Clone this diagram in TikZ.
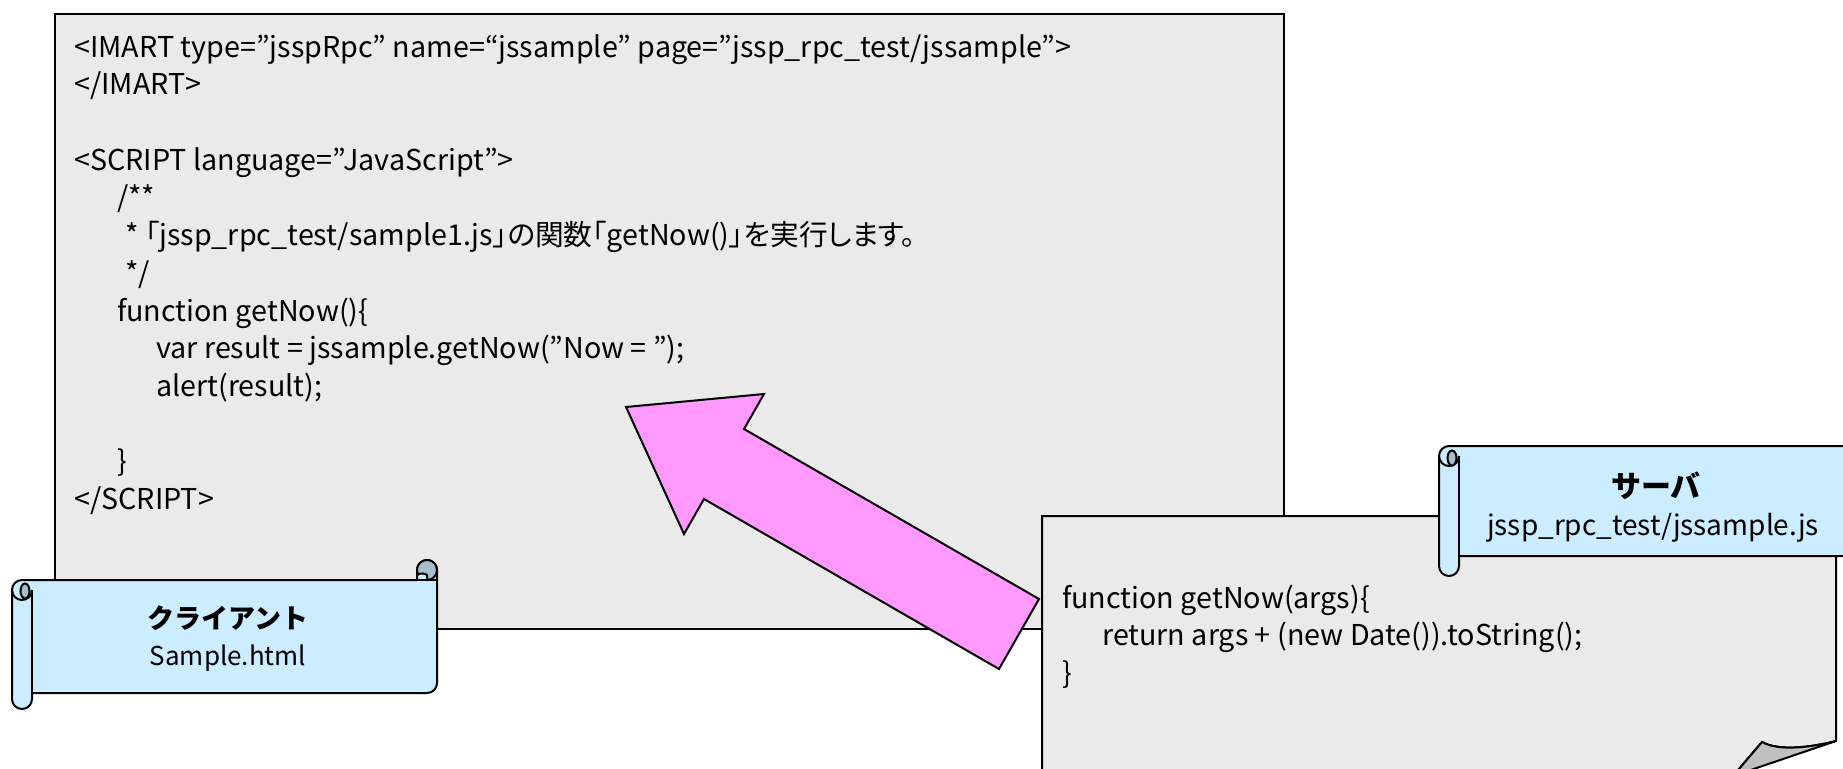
\documentclass[tikz,border=0pt]{standalone}
\usepackage{fontspec}
\setmainfont{Noto Sans CJK JP}
\definecolor{docgray}{RGB}{234,234,234}
\definecolor{bannerblue}{RGB}{204,236,255}
\definecolor{curldark}{RGB}{166,190,206}
\definecolor{arrowpink}{RGB}{255,153,255}
\definecolor{flapgray}{RGB}{192,192,192}
\begin{document}
\begin{tikzpicture}[x=1pt,y=-1pt,
  doc/.style={draw=black,line width=2pt,fill=docgray},
  banner/.style={draw=black,line width=2pt,fill=bannerblue,line join=round},
  curl/.style={draw=black,line width=2pt,fill=curldark},
  codeline/.style={anchor=base west,inner sep=0pt,font=\fontsize{28.7}{32}\selectfont},
  title/.style={anchor=center,inner sep=0pt,font=\fontsize{27}{30}\selectfont\bfseries},
  subtitle/.style={anchor=center,inner sep=0pt,font=\fontsize{26}{30}\selectfont},
  bigarrow/.style={draw=black,line width=2pt,fill=arrowpink,line join=miter}]
\useasboundingbox (0,0) rectangle (1843,768);
\clip (0,0) rectangle (1843,768);

% client document
\node[doc,anchor=north west,minimum width=1229pt,minimum height=615pt,inner sep=0pt] (client) at (54,13) {};
\node[codeline] (c1) at (74,57) {<IMART type=”jsspRpc” name=“jssample” page=”jssp\_rpc\_test/jssample”>};
\node[codeline] (c2) at (74,94.7) {</IMART>};
\node[codeline] (c3) at (74,170) {<SCRIPT language=”JavaScript”>};
\node[codeline] (c4) at (117,207.8) {/**};
\node[codeline] (c5) at (125,245.5) {\addfontfeature{RawFeature=+palt}* 「jssp\_rpc\_test/sample1.js」の関数「getNow()」を実行します。};
\node[codeline] (c6) at (125,283) {*/};
\node[codeline] (c7) at (117,321) {function getNow()\{};
\node[codeline] (c8) at (156,358.6) {var result = jssample.getNow(”Now = ”);};
\node[codeline] (c9) at (156,396.3) {alert(result);};
\node[codeline] (c10) at (117,471.7) {\}};
\node[codeline] (c11) at (74,509.4) {</SCRIPT>};

% arrow
\coordinate (tip) at (626,407);
\coordinate (barbT) at (764,394);
\coordinate (innT) at (744,429);
\coordinate (tailT) at (1039,599);
\coordinate (tailB) at (999,669);
\coordinate (innB) at (704,499);
\coordinate (barbB) at (684,534);
\draw[bigarrow] (tip) -- (barbT) -- (innT) -- (tailT) -- (tailB) -- (innB) -- (barbB) -- cycle;

% server document with curled corner
\coordinate (sTL) at (1042,516);
\coordinate (sTR) at (1836,516);
\coordinate (sCR) at (1836,741);
\coordinate (sCL) at (1762,742);
\coordinate (sTip) at (1733,776);
\draw[doc] (sTL) -- (sTR) -- (sCR) .. controls (1808,748) and (1778,751) .. (sCL) -- (sTip) -- (1042,776) -- cycle;
\draw[draw=black,line width=2pt,fill=flapgray,line join=round] (sCL) .. controls (1778,751) and (1808,748) .. (sCR) -- (sTip) -- cycle;
\node[codeline] (s1) at (1062,608) {function getNow(args)\{};
\node[codeline] (s2) at (1102,645.5) {return args + (new Date()).toString();};
\node[codeline] (s3) at (1062,683) {\}};

% client banner (horizontal scroll)
\draw[banner] (12,590) arc[start angle=180,end angle=270,radius=10] -- (417,580) -- (417,570)
  arc[start angle=180,end angle=360,radius=10] -- (437,683) arc[start angle=0,end angle=90,radius=10]
  -- (32,693) -- (32,699) arc[start angle=0,end angle=180,radius=10] -- cycle;
\draw[line width=2pt] (32,590) -- (32,693);
\draw[line width=2pt] (12,590) arc[start angle=180,end angle=0,radius=10];
\draw[curl] (25,591) ellipse[x radius=4.5,y radius=7.5];
\draw[curl] (427,570) circle[radius=10];
\draw[line width=2pt,fill=bannerblue] (417,580) -- (417,575) .. controls (420,573) and (424,573) .. (427,575) -- (427,580);
\draw[line width=2pt] (417,580) -- (437,580);
\node[title] (ctitle) at (228,618) {クライアント};
\node[subtitle] (csub) at (228,658) {Sample.html};

% server banner
\draw[banner] (1439,456) arc[start angle=180,end angle=270,radius=10] -- (1900,446) -- (1900,556)
  -- (1459,556) -- (1459,566) arc[start angle=0,end angle=180,radius=10] -- cycle;
\draw[line width=2pt] (1459,456) -- (1459,556);
\draw[line width=2pt] (1439,456) arc[start angle=180,end angle=0,radius=10];
\draw[curl] (1452,458) ellipse[x radius=4.5,y radius=7.5];
\node[title,font=\fontsize{30}{32}\selectfont\bfseries] (stitle) at (1656,486) {サーバ};
\node[subtitle,font=\fontsize{28}{32}\selectfont] (ssub) at (1653,528) {jssp\_rpc\_test/jssample.js};
\end{tikzpicture}
\end{document}
